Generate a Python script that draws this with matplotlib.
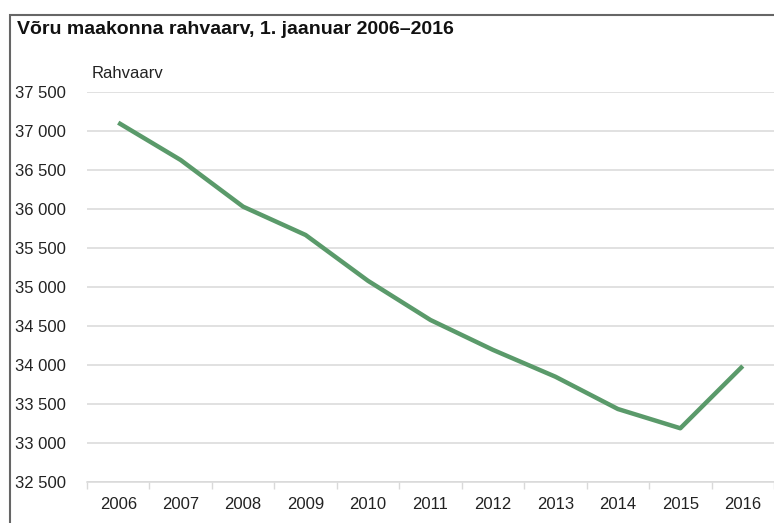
import matplotlib
matplotlib.use('Agg')
import matplotlib.pyplot as plt
from matplotlib.patches import Rectangle
from matplotlib.ticker import FuncFormatter
import numpy as np

# Võru maakonna rahvaarv
years = ['2006', '2007', '2008', '2009', '2010', '2011', '2012', '2013', '2014', '2015', '2016']
population = [37103, 36624, 36026, 35663, 35075, 34573, 34190, 33846, 33432, 33185, 33983]

title = 'Võru maakonna rahvaarv, 1. jaanuar 2006–2016'
y_label = 'Rahvaarv'

plt.rcParams['font.family'] = ['Liberation Sans', 'DejaVu Sans']

fig = plt.figure(figsize=(7.74, 5.23), dpi=100)
ax = fig.add_axes([87 / 774, 1 - 481.7 / 523, 1 - 87 / 774, (481.7 - 91.7) / 523])

x = np.arange(len(years))
ax.plot(x, population, color='#5a9a6a', linewidth=3.2, solid_joinstyle='round', solid_capstyle='butt', zorder=3)

ax.set_xlim(-0.5, len(years) - 0.5)
ax.set_ylim(32500, 37500)
ax.set_yticks(np.arange(32500, 37501, 500))
ax.yaxis.set_major_formatter(FuncFormatter(lambda v, p: '{:,.0f}'.format(v).replace(',', ' ')))
ax.grid(axis='y', color='#d9d9d9', linewidth=1.1)
ax.set_axisbelow(True)

ax.set_xticks(x)
ax.set_xticklabels(years)
ax.set_xticks(np.arange(-0.5, len(years)), minor=True)
ax.tick_params(axis='x', which='major', length=0, pad=11, labelsize=12, colors='#222222')
ax.tick_params(axis='x', which='minor', length=5, width=1, color='#d9d9d9')
ax.tick_params(axis='y', length=0, pad=15, labelsize=12, colors='#222222')

for s in ['top', 'right', 'left']:
    ax.spines[s].set_visible(False)
ax.spines['bottom'].set_color('#d9d9d9')
ax.spines['bottom'].set_linewidth(1.1)

fig.text(92 / 774, 1 - 73 / 523, y_label, fontsize=12, color='#222222', va='center', ha='left')
fig.text(17 / 774, 1 - 30 / 523, title, fontsize=14, fontweight='bold', color='#111111', va='center', ha='left')

# frame around the chart, only top and left edges are in the picture
fig.patches.append(Rectangle((9.5 / 774, -0.1), 1.2, 1 - 15 / 523 + 0.1, transform=fig.transFigure,
                             fill=False, edgecolor='#666666', linewidth=1.5))

plt.savefig('out.png', dpi=100)
plt.close()
